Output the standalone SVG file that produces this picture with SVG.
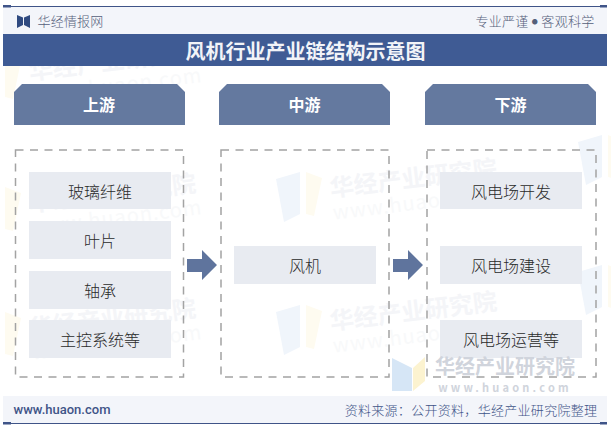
<svg xmlns="http://www.w3.org/2000/svg" xmlns:xlink="http://www.w3.org/1999/xlink" width="611" height="427" viewBox="0 0 611 427">
<style>
text{font-family:"Noto Sans CJK SC","Noto Sans",sans-serif;text-anchor:middle}
.head{fill:#64799f}
.headt{fill:#fff;font-size:16px;font-weight:700}
.item{fill:#e8ebf1}
.itemt{fill:#2a2a2a;font-size:16px;font-weight:300}
.dash{fill:none;stroke:#a3a3a3;stroke-width:1.5;stroke-dasharray:8 6.5}
.arrow{fill:#5f749d}
.band{fill:#f3f5fa}
.rule{fill:#3f5488}
.wt{fill:#f4f5f8;font-size:24px;font-weight:700;text-anchor:start}
.wu{fill:#f8f9fa;font-size:20px;text-anchor:start;letter-spacing:1px}
</style>
<defs>
<g id="wmark">
<polygon points="0,7 24,0 24,42 8,50" fill="#f0f5fb"/>
<polygon points="30,0 46,6 38,44 30,42" fill="#fefbf0"/>
<g transform="rotate(-7 55 25)">
<text class="wt" x="55" y="25">华经产业研究院</text>
<text class="wu" x="55" y="48">www.huaon.com</text>
</g>
</g>
</defs>
<rect width="611" height="427" fill="#fff"/>
<g id="watermarks">
<use xlink:href="#wmark" x="-25" y="55"/>
<use xlink:href="#wmark" x="-25" y="187"/>
<use xlink:href="#wmark" x="-25" y="312"/>
<use xlink:href="#wmark" x="276" y="172"/>
<use xlink:href="#wmark" x="276" y="305"/>
<use xlink:href="#wmark" x="578" y="135"/>
<use xlink:href="#wmark" x="578" y="265"/>
</g>
<g id="header">
<rect class="band" x="3" y="7" width="604" height="27"/>
<rect class="rule" x="3" y="6" width="604" height="1"/>
<rect class="rule" x="3" y="5" width="8" height="2.500"/>
<rect class="rule" x="600" y="5" width="7" height="2.500"/>
<polygon points="17,15 23,17.500 23,25 17,28" fill="#2f4a80"/>
<polygon points="30,15 24,17.500 24,25 30,28" fill="#2f4a80"/>
<text x="70.500" y="26" font-size="13" font-weight="300" fill="#55607a" letter-spacing=".2">华经情报网</text>
<text x="535" y="26" font-size="13" font-weight="300" fill="#55607a" letter-spacing=".3">专业严谨 <tspan font-size="6" dy="-2">●</tspan><tspan dy="2"> 客观科学</tspan></text>
</g>
<g id="title">
<rect x="3" y="34" width="604" height="32" fill="#3f5b94"/>
<text x="305.500" y="59" font-size="20" font-weight="700" fill="#f2f4f8">风机行业产业链结构示意图</text>
</g>
<g id="upstream">
<polygon class="head" points="22,84 177,84 185,92 185,125 14,125 14,92"/>
<text class="headt" x="99" y="111">上游</text>
<rect class="dash" x="15.500" y="150" width="168" height="227"/>
</g>
<g id="midstream">
<polygon class="head" points="227,84 382,84 390,92 390,125 219,125 219,92"/>
<text class="headt" x="304.500" y="111">中游</text>
<rect class="dash" x="221" y="150" width="168" height="227"/>
</g>
<g id="downstream">
<polygon class="head" points="433,84 588,84 596,92 596,125 425,125 425,92"/>
<text class="headt" x="510.500" y="111">下游</text>
<rect class="dash" x="427" y="150" width="169" height="227"/>
</g>
<g id="item-glass"><rect class="item" x="29" y="172" width="142" height="37"/><text class="itemt" x="100" y="198">玻璃纤维</text></g>
<g id="item-blade"><rect class="item" x="29" y="221" width="142" height="38"/><text class="itemt" x="100" y="247">叶片</text></g>
<g id="item-bearing"><rect class="item" x="29" y="271" width="142" height="38"/><text class="itemt" x="100" y="297">轴承</text></g>
<g id="item-control"><rect class="item" x="29" y="320" width="142" height="38"/><text class="itemt" x="100" y="346">主控系统等</text></g>
<g id="item-turbine"><rect class="item" x="234" y="246" width="142" height="38"/><text class="itemt" x="305" y="272">风机</text></g>
<g id="item-dev"><rect class="item" x="440" y="172" width="142" height="37"/><text class="itemt" x="511" y="198">风电场开发</text></g>
<g id="item-build"><rect class="item" x="440" y="246" width="142" height="38"/><text class="itemt" x="511" y="272">风电场建设</text></g>
<g id="item-ops"><rect class="item" x="440" y="320" width="142" height="38"/><text class="itemt" x="511" y="346">风电场运营等</text></g>
<g id="connectors">
<polygon class="arrow" points="187,259 202,259 202,250 217,265 202,280 202,272 187,272"/>
<polygon class="arrow" points="393,259 408,259 408,250 423,265 408,280 408,272 393,272"/>
</g>
<g id="logo-watermark">
<polygon points="392,358 412,368 412,391 392,391" fill="#d6e6f6"/>
<polygon points="425,357 413,368 413,391 425,381" fill="#fcf3d0"/>
<text x="505" y="374" font-size="20" font-weight="700" fill="#d0d4dc">华经产业研究院</text>
<text x="505" y="392" font-size="11" font-weight="700" fill="#d0d4dc" font-family="Roboto,sans-serif" letter-spacing="3.200">www.huaon.com</text>
</g>
<g id="footer">
<rect class="band" x="3" y="396" width="604" height="27"/>
<rect class="rule" x="3" y="423" width="604" height="1"/>
<rect class="rule" x="3" y="422" width="8" height="2.500"/>
<rect class="rule" x="600" y="422" width="7" height="2.500"/>
<text x="62" y="414" font-size="13" font-weight="500" fill="#3f5488" style="font-family:Roboto,sans-serif">www.huaon.com</text>
<text x="471" y="415" font-size="13" font-weight="300" fill="#3f5488" letter-spacing=".3">资料来源：公开资料，华经产业研究院整理</text>
</g>
</svg>
